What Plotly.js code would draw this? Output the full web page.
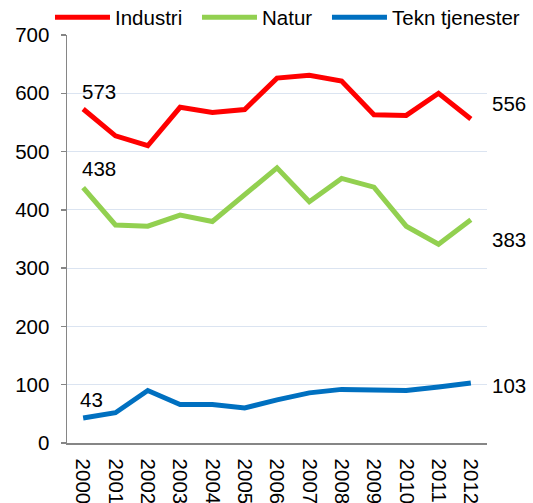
<!DOCTYPE html>
<html>
<head>
<meta charset="utf-8">
<script src="https://cdn.plot.ly/plotly-3.0.1.min.js"></script>
<style>html,body{margin:0;padding:0;background:#fff;}#chart{width:533px;height:503px;}</style>
</head>
<body>
<div id="chart"></div>
<script>
var years = ["2000","2001","2002","2003","2004","2005","2006","2007","2008","2009","2010","2011","2012"];
var industri = [573, 527, 510, 576, 567, 572, 626, 631, 621, 563, 562, 600, 556];
var natur = [438, 374, 372, 391, 380, 426, 472, 414, 454, 439, 372, 341, 383];
var tekn = [43, 52, 90, 66, 66, 60, 74, 86, 92, 92, 90, 96, 103];
var seriesNames = ["Industri", "Natur", "Tekn tjenester"];
var seriesColors = ["#ff0000", "#92d050", "#0070c0"];
var seriesValues = [industri, natur, tekn];

var FONT = "Liberation Sans, Arial, sans-serif";
var FS = 20.5;
var legendIds = ["legend", "legend2", "legend3"];
var legendX = [-0.0405, 0.3095, 0.619];

var traces = seriesValues.map(function (vals, i) {
  return {
    x: years, y: vals, type: "scatter", mode: "lines", name: seriesNames[i],
    legend: legendIds[i],
    line: {color: seriesColors[i], width: 5}, hoverinfo: "x+y"
  };
});

var last = years.length - 1;
var labelShifts = [[16, 18, -1, 15], [16, 19, -1, -20], [8, 18, -1, -3]];
var annotations = [];
seriesValues.forEach(function (vals, i) {
  annotations.push({x: 0, y: vals[0], xref: "x", yref: "y", text: String(vals[0]),
    showarrow: false, xanchor: "center", yanchor: "middle", xshift: labelShifts[i][0], yshift: labelShifts[i][1],
    font: {family: FONT, size: FS, color: "#000"}});
  annotations.push({x: last, y: vals[last], xref: "x", yref: "y", text: String(vals[last]),
    showarrow: false, xanchor: "left", yanchor: "middle", xshift: 19, yshift: labelShifts[i][3],
    font: {family: FONT, size: FS, color: "#000"}});
});

var layout = {
  width: 533, height: 503,
  margin: {l: 67, r: 46, t: 35, b: 60, pad: 0, autoexpand: false},
  paper_bgcolor: "#fff", plot_bgcolor: "#fff",
  font: {family: FONT, size: FS, color: "#000"},
  showlegend: true,
  xaxis: {type: "category", range: [-0.5, 12.5], showgrid: false, zeroline: false,
    showline: true, linecolor: "#868686", linewidth: 1.5, ticks: "", tickangle: 90,
    tickfont: {family: FONT, size: FS, color: "#000"}, ticklabelstandoff: 10, fixedrange: true},
  yaxis: {range: [0, 700], dtick: 100, tick0: 0, showgrid: true, gridcolor: "#dbe4f1", gridwidth: 1,
    zeroline: false, showline: true, linecolor: "#868686", linewidth: 1.5, ticks: "outside", ticklen: 5,
    tickcolor: "#868686", tickwidth: 1.5, tickfont: {family: FONT, size: FS, color: "#000"},
    ticklabelstandoff: 7, fixedrange: true},
  annotations: annotations
};
legendIds.forEach(function (id, i) {
  layout[id] = {orientation: "h", x: legendX[i], xanchor: "left", xref: "paper",
    y: 1 - 17.5 / 503, yref: "container", yanchor: "middle",
    font: {family: FONT, size: FS, color: "#000"}, itemwidth: 55, bgcolor: "rgba(0,0,0,0)"};
});

Plotly.newPlot("chart", traces, layout, {staticPlot: true, displayModeBar: false});
</script>
</body>
</html>
